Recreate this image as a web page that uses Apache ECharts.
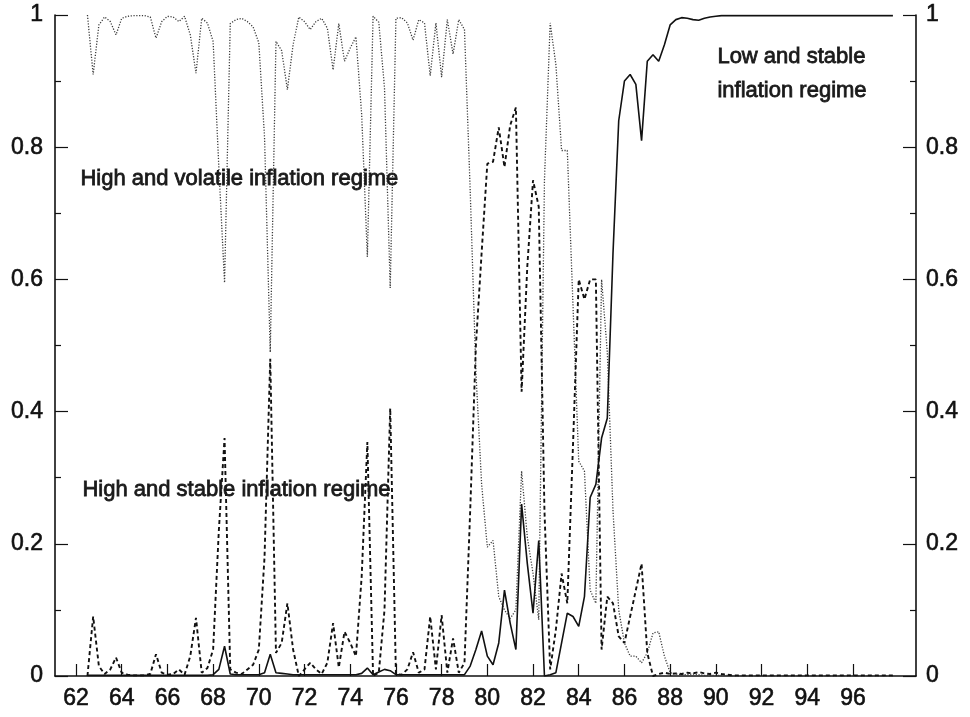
<!DOCTYPE html>
<html>
<head>
<meta charset="utf-8">
<script src="https://cdn.jsdelivr.net/npm/echarts@6/dist/echarts.min.js"></script>
<style>
  html, body { margin: 0; padding: 0; background: #ffffff; }
  #chart { width: 970px; height: 717px; }
</style>
</head>
<body>
<div id="chart"></div>
<script>
// Quarterly regime probabilities, 1962Q3 .. 1997Q4
const startYear = 62.5;
const quarterStep = 0.25;

// High and volatile inflation regime (dotted)
const volatileHigh = [
  1.0, 0.91, 0.985, 0.997, 0.99, 0.97, 0.995, 0.998, 0.999, 0.999,
  0.999, 0.997, 0.965, 0.99, 0.998, 0.997, 0.99, 0.998, 0.97, 0.912,
  0.995, 0.988, 0.96, 0.77, 0.595, 0.987, 0.993, 0.995, 0.99, 0.982,
  0.958, 0.815, 0.49, 0.96, 0.946, 0.887, 0.955, 0.997, 0.99, 0.978,
  0.99, 0.995, 0.98, 0.917, 0.987, 0.93, 0.95, 0.967, 0.85, 0.634,
  0.998, 0.989, 0.89, 0.587, 0.995, 0.996, 0.988, 0.962, 0.993, 0.988,
  0.908, 0.988, 0.906, 0.993, 0.941, 0.993, 0.978, 0.735, 0.46, 0.29,
  0.195, 0.205, 0.12, 0.1, 0.087, 0.1, 0.31, 0.21, 0.155, 0.085,
  0.75, 0.988, 0.925, 0.795, 0.795, 0.56, 0.325, 0.31, 0.13, 0.11,
  0.6, 0.49, 0.25, 0.1, 0.05, 0.03, 0.03, 0.02, 0.035, 0.065,
  0.067, 0.03, 0.005, 0.003, 0.002, 0.002, 0.003, 0.002, 0.001, 0.001,
  0.001, 0.001, 0.001, 0.0, 0.0, 0.0, 0.0, 0.0, 0.0, 0.0,
  0.0, 0.0, 0.0, 0.0, 0.0, 0.0, 0.0, 0.0, 0.0, 0.0,
  0.0, 0.0, 0.0, 0.0, 0.0, 0.0, 0.0, 0.0, 0.0, 0.0,
  0.0, 0.0
];

// High and stable inflation regime (dashed)
const stableHigh = [
  0.0, 0.09, 0.015, 0.003, 0.01, 0.028, 0.005, 0.002, 0.001, 0.001,
  0.001, 0.003, 0.033, 0.005, 0.002, 0.003, 0.01, 0.002, 0.03, 0.088,
  0.005, 0.012, 0.04, 0.22, 0.36, 0.01, 0.005, 0.003, 0.01, 0.017,
  0.04, 0.18, 0.48, 0.035, 0.05, 0.11, 0.04, 0.0, 0.01, 0.02,
  0.01, 0.003, 0.02, 0.08, 0.013, 0.067, 0.05, 0.03, 0.15, 0.354,
  0.0, 0.005, 0.1, 0.405, 0.003, 0.002, 0.01, 0.036, 0.005, 0.01,
  0.09, 0.01, 0.092, 0.005, 0.057, 0.005, 0.02, 0.25, 0.5, 0.64,
  0.775, 0.778, 0.83, 0.77, 0.833, 0.86, 0.43, 0.62, 0.75, 0.71,
  0.25, 0.01, 0.07, 0.155, 0.11, 0.35, 0.6, 0.57, 0.6, 0.6,
  0.04, 0.12, 0.11, 0.06, 0.05, 0.09, 0.13, 0.17, 0.035, 0.0,
  0.003, 0.005, 0.003, 0.004, 0.003, 0.005, 0.004, 0.006, 0.004, 0.003,
  0.005, 0.003, 0.002, 0.001, 0.001, 0.001, 0.001, 0.001, 0.001, 0.001,
  0.001, 0.001, 0.001, 0.001, 0.001, 0.001, 0.001, 0.001, 0.001, 0.001,
  0.001, 0.001, 0.001, 0.001, 0.001, 0.001, 0.001, 0.001, 0.001, 0.001,
  0.001, 0.001
];

// Low and stable inflation regime (solid)
const stableLow = [
  0.001, 0.001, 0.001, 0.001, 0.001, 0.001, 0.001, 0.001, 0.001, 0.001,
  0.001, 0.001, 0.001, 0.001, 0.001, 0.001, 0.001, 0.001, 0.001, 0.001,
  0.001, 0.001, 0.002, 0.01, 0.045, 0.003, 0.002, 0.002, 0.002, 0.002,
  0.002, 0.005, 0.033, 0.005, 0.004, 0.003, 0.002, 0.002, 0.002, 0.002,
  0.002, 0.002, 0.002, 0.002, 0.002, 0.002, 0.002, 0.002, 0.004, 0.012,
  0.002, 0.006, 0.01, 0.008, 0.002, 0.002, 0.002, 0.002, 0.002, 0.002,
  0.002, 0.002, 0.002, 0.002, 0.002, 0.002, 0.002, 0.015, 0.04, 0.068,
  0.03, 0.017, 0.05, 0.13, 0.08, 0.04, 0.26, 0.17, 0.095, 0.205,
  0.0, 0.002, 0.005, 0.05, 0.095, 0.09, 0.075, 0.12, 0.27, 0.29,
  0.36, 0.39, 0.64, 0.84, 0.9, 0.91, 0.895, 0.81, 0.93, 0.94,
  0.93, 0.955, 0.985, 0.993, 0.996, 0.995, 0.993, 0.992, 0.995, 0.997,
  0.998, 0.999, 0.999, 0.999, 0.999, 0.999, 0.999, 0.999, 0.999, 0.999,
  0.999, 0.999, 0.999, 0.999, 0.999, 0.999, 0.999, 0.999, 0.999, 0.999,
  0.999, 0.999, 0.999, 0.999, 0.999, 0.999, 0.999, 0.999, 0.999, 0.999,
  0.999, 0.999
];

const xTickLabels = [62, 64, 66, 68, 70, 72, 74, 76, 78, 80, 82, 84, 86, 88, 90, 92, 94, 96];
const yTickLabels = [0, 0.2, 0.4, 0.6, 0.8, 1];

const quarters = volatileHigh.map((_, i) => startYear + quarterStep * i);
const toPairs = (arr) => arr.map((v, i) => [quarters[i], v]);

const chart = echarts.init(document.getElementById('chart'), null, { renderer: 'canvas' });

const labelFont = {
  fontFamily: '"Liberation Sans", Arial, Helvetica, sans-serif',
  fontSize: 23,
  color: '#111111',
  textBorderColor: '#111111',
  textBorderWidth: 0.6
};

function yAxisCfg(pos) {
  return {
    type: 'value',
    position: pos,
    min: 0,
    max: 1,
    interval: 0.2,
    axisLine: { show: true, onZero: false, lineStyle: { color: '#111111', width: 1.6 } },
    axisTick: { show: true, inside: true, length: 13, lineStyle: { color: '#111111', width: 1.2 } },
    minorTick: { show: true, splitNumber: 2, length: 6, lineStyle: { color: '#111111', width: 1.2 } },
    splitLine: { show: false },
    minorSplitLine: { show: false },
    axisLabel: Object.assign({
      margin: pos === 'left' ? 12 : 10,
      customValues: yTickLabels,
      formatter: (v) => String(v)
    }, labelFont)
  };
}

const annFont = '22px "Liberation Sans", Arial, Helvetica, sans-serif';
function ann(text, x, y) {
  return {
    type: 'text',
    left: x,
    top: y,
    z: 100,
    style: {
      text: text,
      font: annFont,
      fill: '#1a1a1a',
      stroke: '#1a1a1a',
      lineWidth: 0.8
    }
  };
}

chart.setOption({
  animation: false,
  backgroundColor: '#ffffff',
  grid: { left: 55, top: 15, width: 861, height: 661, containLabel: false },
  xAxis: {
    type: 'value',
    min: 61.08,
    max: 98.76,
    axisLine: { show: true, onZero: false, lineStyle: { color: '#111111', width: 1.6 } },
    axisTick: { show: true, inside: true, length: 12, customValues: xTickLabels, lineStyle: { color: '#111111', width: 1.2 } },
    splitLine: { show: false },
    axisLabel: Object.assign({
      margin: 11,
      customValues: xTickLabels,
      formatter: (v) => String(v)
    }, labelFont)
  },
  yAxis: [yAxisCfg('left'), yAxisCfg('right')],
  graphic: [
    ann('High and volatile inflation regime', 80, 168),
    ann('High and stable inflation regime', 82, 479),
    ann('Low and stable', 717, 46),
    ann('inflation regime', 717, 80)
  ],
  series: [
    {
      name: 'High and volatile inflation regime',
      type: 'line',
      data: toPairs(volatileHigh),
      showSymbol: false,
      symbol: 'none',
      lineStyle: { color: '#3a3a3a', width: 1.3, type: [1.2, 1.6] },
      z: 2
    },
    {
      name: 'High and stable inflation regime',
      type: 'line',
      data: toPairs(stableHigh),
      showSymbol: false,
      symbol: 'none',
      lineStyle: { color: '#111111', width: 1.9, type: [4, 3] },
      z: 3
    },
    {
      name: 'Low and stable inflation regime',
      type: 'line',
      data: toPairs(stableLow),
      showSymbol: false,
      symbol: 'none',
      lineStyle: { color: '#111111', width: 1.6, type: 'solid' },
      z: 4
    }
  ]
});
</script>
</body>
</html>
